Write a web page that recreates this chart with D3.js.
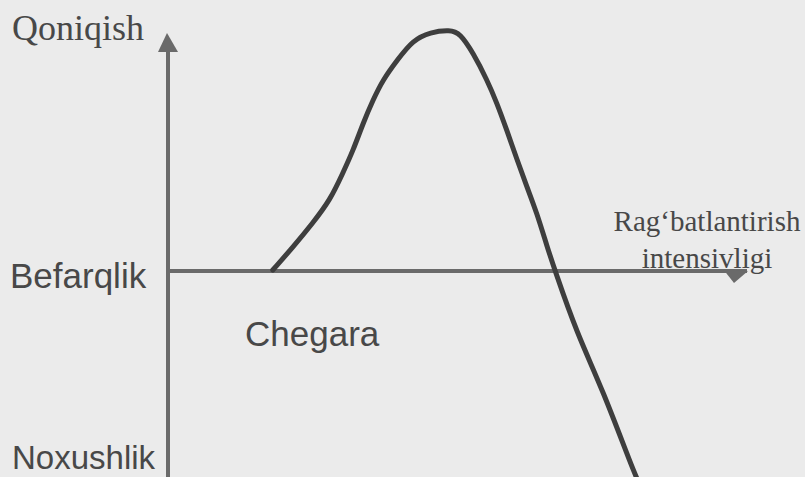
<!DOCTYPE html>
<html>
<head>
<meta charset="utf-8">
<script src="https://cdn.jsdelivr.net/npm/d3@7"></script>
<style>
  html, body { margin: 0; padding: 0; background: #ebebeb; }
  svg { display: block; }
</style>
</head>
<body>
<svg id="chart" width="805" height="477"></svg>
<script>
// Curve data: stimulation intensity (0..100) vs satisfaction (-100..100)
const intensity = [18.1, 21.6, 25.0, 28.0, 30.2, 32.0, 33.7, 35.4, 37.1, 39.6, 42.3, 45.3, 48.7, 50.4, 52.7, 55.1, 56.8, 58.5, 60.3, 62.0, 63.7, 65.5, 66.8, 70.6, 75.1, 80.3, 81.5];
const satisfaction = [0, 9.7, 19.8, 29.5, 40.9, 50.6, 62.0, 71.7, 80.2, 88.6, 97.0, 100.4, 101.3, 100, 91.6, 80.2, 70.5, 59.1, 46.4, 35.0, 24.1, 9.7, 0, -26.6, -50.6, -84.4, -90.7];

// Labels
const yAxisTitle = "Qoniqish";
const xAxisTitle = ["Rag\u2018batlantirish", "intensivligi"];
const levelLabels = ["Befarqlik", "Noxushlik"];
const regionLabel = "Chegara";

const svg = d3.select("#chart");
const W = 805, H = 477;

const x = d3.scaleLinear().domain([0, 100]).range([168, 747]);
const y = d3.scaleLinear().domain([-100, 100]).range([507, 33]);

const textColor = "#484848";
const axisColor = "#6a6a6a";
const serif = "'Liberation Serif', 'Times New Roman', serif";
const sans = "'Liberation Sans', Arial, sans-serif";

// Text labels
svg.append("text")
  .attr("x", 12).attr("y", 40)
  .attr("font-family", serif).attr("font-size", 36)
  .attr("fill", textColor)
  .text(yAxisTitle);

svg.append("text")
  .attr("x", 10).attr("y", 288)
  .attr("font-family", sans).attr("font-size", 35)
  .attr("fill", textColor)
  .text(levelLabels[0]);

svg.append("text")
  .attr("x", 12).attr("y", 469)
  .attr("font-family", sans).attr("font-size", 33)
  .attr("fill", textColor)
  .text(levelLabels[1]);

svg.append("text")
  .attr("x", 245).attr("y", 346)
  .attr("font-family", sans).attr("font-size", 35)
  .attr("fill", textColor)
  .text(regionLabel);

svg.selectAll("text.xt")
  .data(xAxisTitle)
  .enter().append("text")
  .attr("class", "xt")
  .attr("x", 707)
  .attr("y", (d, i) => i === 0 ? 231 : 268)
  .attr("text-anchor", "middle")
  .attr("font-family", serif).attr("font-size", 29)
  .attr("fill", textColor)
  .text(d => d);

// Axes
const x0 = x(0), y0 = y(0);
svg.append("line")
  .attr("x1", x0).attr("x2", x0)
  .attr("y1", y(100) + 12).attr("y2", H)
  .attr("stroke", axisColor).attr("stroke-width", 4);

svg.append("path")
  .attr("d", `M${x0 - 1},${y(100)} L${x0 + 10},${y(100) + 19} L${x0 - 10},${y(100) + 19} Z`)
  .attr("fill", axisColor);

svg.append("line")
  .attr("x1", x0).attr("x2", x(100))
  .attr("y1", y0 + 1).attr("y2", y0 + 1)
  .attr("stroke", axisColor).attr("stroke-width", 4);

svg.append("path")
  .attr("d", `M${x(100) - 24},${y0 - 1} L${x(100) + 1},${y0 + 1} L${x(100) - 13},${y0 + 13} Z`)
  .attr("fill", axisColor);

// Curve
const pts = intensity.map((v, i) => [v, satisfaction[i]]);
const line = d3.line()
  .x(d => x(d[0]))
  .y(d => y(d[1]))
  .curve(d3.curveBasis);

svg.append("path")
  .datum(pts)
  .attr("d", line)
  .attr("fill", "none")
  .attr("stroke", "#3e3e3e")
  .attr("stroke-width", 5)
  .attr("stroke-linecap", "round")
  .attr("stroke-linejoin", "round");
</script>
</body>
</html>
